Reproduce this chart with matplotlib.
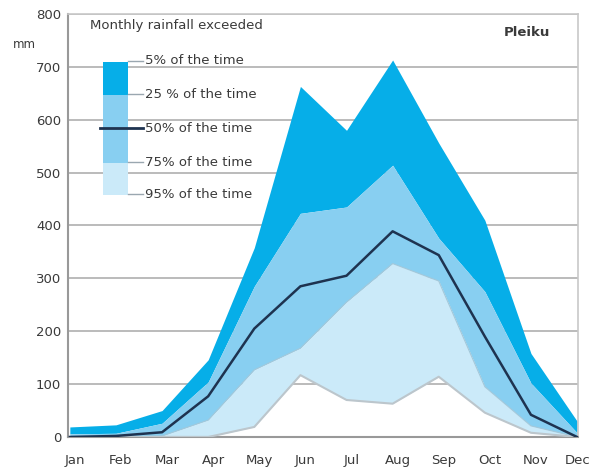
import matplotlib
matplotlib.use("Agg")
import matplotlib.pyplot as plt
from matplotlib.patches import Rectangle
from matplotlib.lines import Line2D
from matplotlib.transforms import ScaledTranslation

plt.rcParams['font.family'] = ['DejaVu Sans']

months = ["Jan", "Feb", "Mar", "Apr", "May", "Jun",
          "Jul", "Aug", "Sep", "Oct", "Nov", "Dec"]

# Monthly rainfall (mm) exceeded a given share of the time
p5 = [19, 23, 50, 146, 358, 663, 580, 713, 556, 410, 158, 30]
p25 = [6, 7, 26, 104, 285, 423, 435, 514, 376, 275, 102, 8]
p50 = [0, 2, 9, 77, 205, 285, 305, 389, 344, 190, 42, 0]
p75 = [0, 0, 2, 32, 127, 168, 255, 328, 295, 95, 21, 0]
p95 = [0, 0, 0, 0, 19, 117, 70, 63, 114, 46, 8, 0]

y_ticks = [0, 100, 200, 300, 400, 500, 600, 700, 800]
station = "Pleiku"
legend_title = "Monthly rainfall exceeded"
legend_labels = ["5% of the time", "25 % of the time", "50% of the time",
                 "75% of the time", "95% of the time"]

c_top = "#06AEE8"
c_mid = "#88CFF1"
c_low = "#CBEAF9"
c_navy = "#1E3350"
c_grey_line = "#BCC6CC"
c_text = "#3A3A3A"
c_grid = "#B5B5B5"
fs = 9.5

W, H = 597, 470
fig = plt.figure(figsize=(W / 100, H / 100), dpi=100)
ax = fig.add_axes([68 / W, (H - 437) / H, (578 - 68) / W, (437 - 14) / H])

x = list(range(len(months)))
ax.fill_between(x, p25, p5, color=c_top, lw=0, zorder=2)
ax.fill_between(x, p75, p25, color=c_mid, lw=0, zorder=2)
ax.fill_between(x, p95, p75, color=c_low, lw=0, zorder=2)
ax.plot(x, p75, color="#A3C8DA", lw=0.8, zorder=3)
ax.plot(x, p95, color=c_grey_line, lw=1.5, zorder=3)
ax.plot(x, p50, color=c_navy, lw=1.8, zorder=4)

ax.set_xlim(-0.04, 11.02)
ax.set_ylim(0, 800)
ax.set_yticks(y_ticks)
ax.set_yticklabels([str(v) for v in y_ticks])
ax.set_xticks(x)
ax.set_xticklabels(months)
ax.tick_params(length=0, labelsize=fs, colors=c_text, pad=5)
ax.tick_params(axis="x", pad=12)
xlabels = ax.get_xticklabels()
for i, lbl in enumerate(xlabels):
    dx = 1 if i == len(xlabels) - 1 else 5
    lbl.set_transform(lbl.get_transform() +
                      ScaledTranslation(dx / 100, 0, fig.dpi_scale_trans))
ax.yaxis.grid(True, color=c_grid, lw=1.3, zorder=1)
ax.set_axisbelow(True)
for side in ["left", "bottom"]:
    ax.spines[side].set_color("#999999")
    ax.spines[side].set_linewidth(1.5)
for side in ["right", "top"]:
    ax.spines[side].set_color("#C8C8C8")
    ax.spines[side].set_linewidth(1.2)


def px(xp, yp):
    return xp / W, 1 - yp / H


fig.text(*px(550, 33), station, ha="right", va="center",
         fontsize=fs, fontweight="bold", color=c_text)
fig.text(*px(13, 45), "mm", fontsize=8.5, color=c_text, va="center", ha="left")
fig.text(*px(90, 26), legend_title, fontsize=fs, color=c_text, va="center", ha="left")

# Legend colour bar
bar_x0, bar_x1 = 103, 128
segments = [(62, 95, c_top), (95, 163, c_mid), (163, 195, c_low)]
for y0, y1, col in segments:
    xa, ya = px(bar_x0, y1)
    fig.patches.append(Rectangle((xa, ya), (bar_x1 - bar_x0) / W, (y1 - y0) / H,
                                 transform=fig.transFigure, color=col, lw=0))

label_y = [61, 94, 128, 162, 194]
for i, (yy, lab) in enumerate(zip(label_y, legend_labels)):
    if i == 2:
        x0, col, lw = 100, c_navy, 2.0
    else:
        x0, col, lw = bar_x1, "#9AA7B0", 1.0
    xa, ya = px(x0, yy)
    xb, _ = px(143, yy)
    fig.lines.append(Line2D([xa, xb], [ya, ya], transform=fig.transFigure,
                            color=col, lw=lw))
    fig.text(*px(145, yy), lab, fontsize=fs, color=c_text, va="center", ha="left")

fig.savefig("out.png", dpi=100)
